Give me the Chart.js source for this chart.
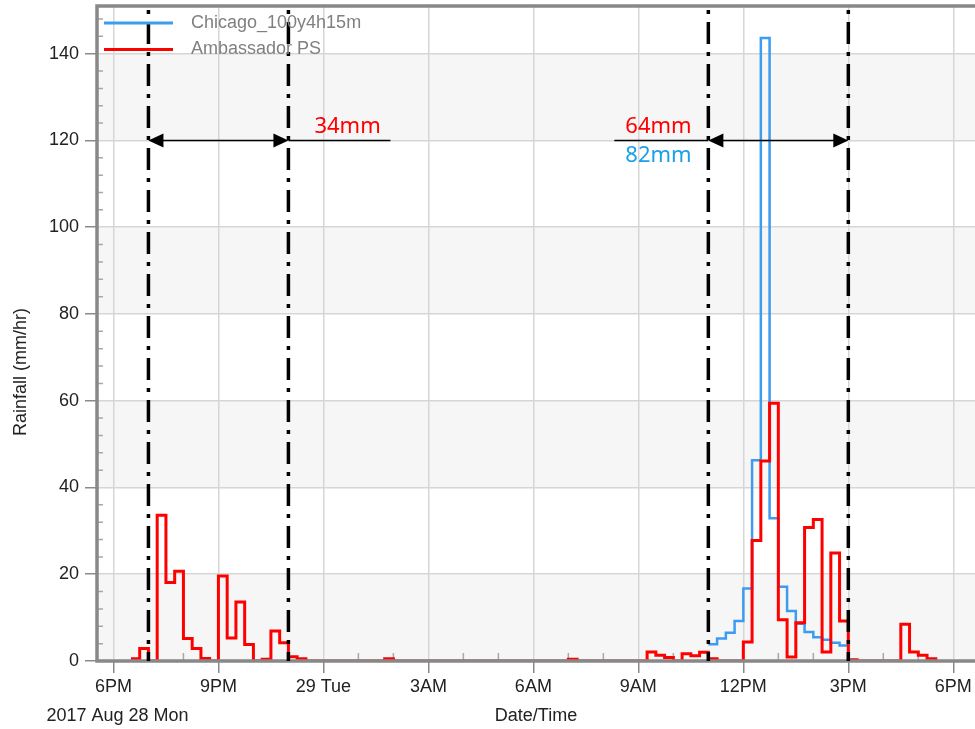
<!DOCTYPE html>
<html>
<head>
<meta charset="utf-8">
<title>Rainfall</title>
<script src="https://cdn.jsdelivr.net/npm/chart.js@4.4.1/dist/chart.umd.min.js"></script>
<style>
  html, body { margin: 0; padding: 0; background: #fff; overflow: hidden; }
  canvas { display: block; }
</style>
</head>
<body>
<canvas id="rainChart" width="975" height="729"></canvas>
<script>
// times are hours after 6PM, Mon 28 Aug 2017, in 15 minute steps
const chicagoHours = [17, 17.25, 17.5, 17.75, 18, 18.25, 18.5, 18.75, 19, 19.25, 19.5, 19.75, 20, 20.25, 20.5, 20.75, 21];
const chicagoRain = [3.85, 5.2, 6.5, 9.2, 16.7, 46.3, 143.6, 32.9, 17.1, 11.5, 8.6, 6.7, 5.5, 4.9, 4.2, 3.6, 0];

const ambassadorHours = [0.5, 0.75, 1, 1.25, 1.5, 1.75, 2, 2.25, 2.5, 2.75, 3, 3.25, 3.5, 3.75, 4, 4.25, 4.5, 4.75, 5, 5.25, 5.5,
    7.75, 8, 13, 13.25, 15.25, 15.5, 15.75, 16, 16.25, 16.5, 16.75, 17, 17.25,
    18, 18.25, 18.5, 18.75, 19, 19.25, 19.5, 19.75, 20, 20.25, 20.5, 20.75, 21, 21.25,
    22.5, 22.75, 23, 23.25, 23.5];
const ambassadorRain = [0.5, 2.9, 0, 33.6, 18.1, 20.7, 5.2, 2.9, 0.6, 0, 19.6, 5.3, 13.6, 3.8, 0, 0.4, 6.9, 4.2, 1.0, 0.5, 0,
    0.5, 0, 0.4, 0, 2.1, 1.3, 0.8, 0, 1.7, 1.2, 2.0, 0.5, 0,
    4.4, 27.8, 46.1, 59.4, 9.5, 0.9, 8.8, 30.8, 32.6, 2.1, 24.9, 9.2, 0.3, 0,
    8.5, 2.1, 1.3, 0.5, 0];

const tickHours = [0, 3, 6, 9, 12, 15, 18, 21, 24];
const tickLabels = ['6PM', '9PM', '29 Tue', '3AM', '6AM', '9AM', '12PM', '3PM', '6PM'];
const yTicks = [0, 20, 40, 60, 80, 100, 120, 140];

// storm windows and their depths
const eventStart = [1, 17];
const eventEnd = [5, 21];
const eventSide = ['right', 'left'];
const eventTotals = [['34mm'], ['64mm', '82mm']];
const eventTotalColors = [['#ff0000'], ['#ff0000', '#1aa0e8']];
const arrowLevel = 120;

const FONT = "'Liberation Sans', Arial, sans-serif";

function arrowHead(ctx, tipX, tipY, dir) {
    ctx.beginPath();
    ctx.moveTo(tipX, tipY);
    ctx.lineTo(tipX + dir * 15, tipY - 7);
    ctx.lineTo(tipX + dir * 15, tipY + 7);
    ctx.closePath();
    ctx.fill();
}

const frame = {
    id: 'frame',
    beforeDraw(chart) {
        const {ctx, chartArea: a, scales: {y}} = chart;
        ctx.save();
        ctx.fillStyle = '#f6f6f6';
        for (let i = 0; i < yTicks.length; i += 2) {
            const top = y.getPixelForValue(i + 1 < yTicks.length ? yTicks[i + 1] : y.max);
            const bottom = y.getPixelForValue(yTicks[i]);
            ctx.fillRect(a.left, top, a.right - a.left, bottom - top);
        }
        ctx.restore();
    },
    beforeDatasetsDraw(chart) {
        const {ctx, chartArea: a, scales: {x, y}} = chart;
        ctx.save();
        ctx.strokeStyle = '#a8a8a8';
        ctx.lineWidth = 1.5;
        ctx.beginPath();
        for (let h = Math.ceil(x.min); h <= x.max; h++) {
            if (h % 3 === 0) continue;
            const px = x.getPixelForValue(h);
            ctx.moveTo(px, a.bottom);
            ctx.lineTo(px, a.bottom - 8);
        }
        for (let v = 4; v < y.max; v += 4) {
            if (v % 20 === 0) continue;
            const py = y.getPixelForValue(v);
            ctx.moveTo(a.left, py);
            ctx.lineTo(a.left + 6, py);
        }
        ctx.stroke();
        ctx.restore();
    },
    afterDatasetsDraw(chart) {
        const {ctx, chartArea: a, scales: {x, y}} = chart;
        ctx.save();

        // plot border (covers the zero runs of the step lines)
        ctx.strokeStyle = '#888';
        ctx.lineWidth = 3.5;
        ctx.beginPath();
        ctx.moveTo(a.right, a.top);
        ctx.lineTo(a.left, a.top);
        ctx.lineTo(a.left, a.bottom);
        ctx.lineTo(a.right, a.bottom);
        ctx.stroke();

        // storm windows
        const yA = y.getPixelForValue(arrowLevel);
        ctx.strokeStyle = '#000';
        ctx.fillStyle = '#000';
        for (let i = 0; i < eventStart.length; i++) {
            const x1 = x.getPixelForValue(eventStart[i]);
            const x2 = x.getPixelForValue(eventEnd[i]);

            ctx.lineWidth = 3.5;
            ctx.setLineDash([4, 8, 22, 8]);
            ctx.beginPath();
            ctx.moveTo(x1, a.top + 4);
            ctx.lineTo(x1, a.bottom);
            ctx.moveTo(x2, a.top + 4);
            ctx.lineTo(x2, a.bottom);
            ctx.stroke();
            ctx.setLineDash([]);

            ctx.lineWidth = 1.5;
            ctx.beginPath();
            ctx.moveTo(x1 + 4, yA);
            ctx.lineTo(x2 - 4, yA);
            const right = eventSide[i] === 'right';
            if (right) {
                ctx.moveTo(x2, yA);
                ctx.lineTo(x2 + 102, yA);
            } else {
                ctx.moveTo(x1 - 94, yA);
                ctx.lineTo(x1, yA);
            }
            ctx.stroke();
            arrowHead(ctx, x1, yA, 1);
            arrowHead(ctx, x2, yA, -1);

            ctx.font = "22px 'Noto Sans', 'Open Sans', sans-serif";
            ctx.textAlign = 'left';
            ctx.textBaseline = 'alphabetic';
            const tx = right ? x2 + 26 : x1 - 83;
            eventTotals[i].forEach((t, k) => {
                ctx.fillStyle = eventTotalColors[i][k];
                ctx.fillText(t, tx, k === 0 ? yA - 7 : yA + 22);
            });
            ctx.fillStyle = '#000';
        }
        ctx.restore();
    },
    afterDraw(chart) {
        const {ctx, chartArea: a, scales: {x}} = chart;
        ctx.save();

        // legend in the top-left corner of the plot
        ctx.font = '18px ' + FONT;
        ctx.textBaseline = 'middle';
        ctx.textAlign = 'left';
        chart.data.datasets.forEach((ds, i) => {
            const ly = a.top + 17 + i * 26.5;
            ctx.strokeStyle = ds.borderColor;
            ctx.lineWidth = 3;
            ctx.beginPath();
            ctx.moveTo(a.left + 7, ly);
            ctx.lineTo(a.left + 76, ly);
            ctx.stroke();
            ctx.fillStyle = '#808080';
            ctx.fillText(ds.label, a.left + 94, ly);
        });

        // axis title and start date
        ctx.fillStyle = '#222';
        ctx.textAlign = 'center';
        ctx.fillText('2017 Aug 28 Mon', x.getPixelForValue(tickHours[0]) + 4, 716);
        ctx.translate(21, 372);
        ctx.rotate(-Math.PI / 2);
        ctx.fillText('Rainfall (mm/hr)', 0, 0);
        ctx.restore();
    }
};

Chart.defaults.font.family = FONT;
Chart.defaults.font.size = 18;
Chart.defaults.color = '#222';

let ctx = document.getElementById('rainChart').getContext('2d');
let rainChart = new Chart(ctx, {
    type: 'line',
    data: {
        datasets: [{
            label: 'Chicago_100y4h15m',
            data: chicagoHours.map((h, i) => ({x: h, y: chicagoRain[i]})),
            borderColor: '#3d9cf0',
            borderWidth: 2.5,
            stepped: true,
            pointRadius: 0,
            fill: false,
            order: 1
        }, {
            label: 'Ambassador PS',
            data: ambassadorHours.map((h, i) => ({x: h, y: ambassadorRain[i]})),
            borderColor: '#ff0000',
            borderWidth: 3,
            stepped: true,
            pointRadius: 0,
            fill: false,
            order: 0
        }]
    },
    options: {
        responsive: false,
        animation: false,
        layout: {padding: {top: 6, left: 0, right: 0, bottom: 0}},
        plugins: {legend: {display: false}, tooltip: {enabled: false}},
        scales: {
            x: {
                type: 'linear',
                min: -0.47,
                max: 24.62,
                afterBuildTicks: s => { s.ticks = tickHours.map(v => ({value: v})); },
                afterFit: s => { s.height = 68; s.paddingLeft = 0; s.paddingRight = 0; },
                grid: {color: '#d6d6d6', lineWidth: 1.5, tickLength: 12, tickColor: '#8a8a8a', tickWidth: 1.5},
                border: {display: false},
                ticks: {padding: 3, maxRotation: 0, autoSkip: false, callback: (v, i) => tickLabels[i]},
                title: {display: true, text: 'Date/Time', padding: {top: 0, bottom: 2}}
            },
            y: {
                min: 0,
                max: 151,
                afterBuildTicks: s => { s.ticks = yTicks.map(v => ({value: v})); },
                afterFit: s => { s.width = 97; s.paddingTop = 0; s.paddingBottom = 0; },
                grid: {color: '#d6d6d6', lineWidth: 1.5, tickLength: 12, tickColor: '#8a8a8a', tickWidth: 1.5},
                border: {display: false},
                ticks: {padding: 6}
            }
        }
    },
    plugins: [frame]
});
</script>
</body>
</html>
